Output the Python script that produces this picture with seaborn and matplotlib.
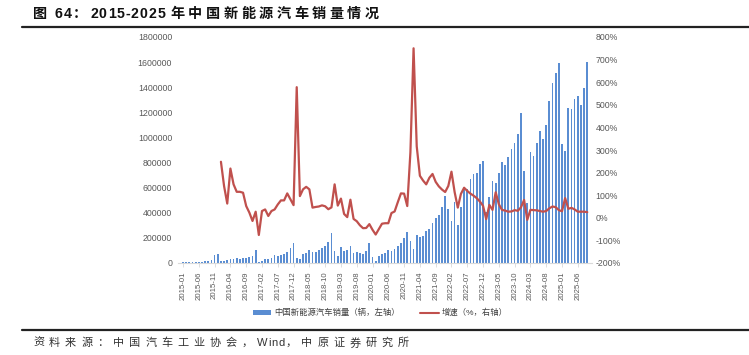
import matplotlib
matplotlib.use("Agg")
import matplotlib.pyplot as plt
from matplotlib.patches import Patch
from matplotlib.lines import Line2D
import seaborn as sns
import pandas as pd
import numpy as np

# ---------------- data ----------------
years = list(range(2015, 2026))
months = [f"{y}-{m:02d}" for y in years for m in range(1, 13)][:129]   # 2015-01 .. 2025-09

sales_2015 = [4700, 5500, 8000, 8500, 9500, 11000, 11000, 12000, 19000, 23000, 66000, 72000]
sales_2016 = [16500, 12000, 22500, 30000, 32000, 40000, 32000, 36000, 42000, 45000, 57000, 100000]
sales_2017 = [5700, 14000, 28000, 31000, 42000, 60000, 52000, 64000, 74000, 85000, 120000, 158000]
sales_2018 = [40000, 34500, 68000, 82000, 102000, 84000, 84000, 101000, 121000, 138000, 169000, 235000]
sales_2019 = [96000, 53000, 126000, 97000, 104000, 134000, 80000, 85000, 80000, 75000, 95000, 163000]
sales_2020 = [44000, 13000, 53000, 72000, 82000, 104000, 98000, 109000, 138000, 160000, 200000, 248000]
sales_2021 = [179000, 110000, 226000, 206000, 217000, 256000, 271000, 321000, 357000, 383000, 450000, 531000]
sales_2022 = [431000, 334000, 484000, 299000, 447000, 596000, 593000, 666000, 708000, 714000, 786000, 814000]
sales_2023 = [408000, 525000, 653000, 636000, 717000, 806000, 780000, 846000, 904000, 956000, 1026000, 1191000]
sales_2024 = [729000, 477000, 883000, 850000, 955000, 1049000, 991000, 1100000, 1287000, 1430000, 1512000, 1596000]
sales_2025 = [944000, 892000, 1235000, 1226000, 1307000, 1329000, 1262000, 1395000, 1604000]

growth_2016 = [248, 140, 63, 218, 148, 115, 115, 111, 52, 23, -14, 27]
growth_2017 = [-76, 30, 37, 8, 30, 37, 59, 77, 77, 108, 82, 56]
growth_2018 = [578, 96, 126, 137, 126, 45, 48, 50, 55, 51, 38, 46]
growth_2019 = [148, 54, 85, 17, 3, 80, -5, -15, -33, -46, -45, -28]
growth_2020 = [-53, -74, -50, -26, -24, -24, 21, 28, 69, 108, 107, 52]
growth_2021 = [290, 750, 316, 186, 165, 148, 177, 194, 159, 139, 125, 114]
growth_2022 = [141, 204, 114, 45, 106, 133, 119, 107, 98, 87, 72, 53]
growth_2023 = [-6, 57, 35, 113, 60, 35, 32, 27, 28, 34, 31, 46]
growth_2024 = [79, -9, 35, 34, 33, 30, 27, 30, 42, 50, 47, 34]
growth_2025 = [29, 87, 40, 44, 37, 27, 27, 27, 25]

tick_labels = ["2015-01", "2015-06", "2015-11", "2016-04", "2016-09", "2017-02", "2017-07",
               "2017-12", "2018-05", "2018-10", "2019-03", "2019-08", "2020-01", "2020-06",
               "2020-11", "2021-04", "2021-09", "2022-02", "2022-07", "2022-12", "2023-05",
               "2023-10", "2024-03", "2024-08", "2025-01", "2025-06"]

left_ticks = [0, 200000, 400000, 600000, 800000, 1000000, 1200000, 1400000, 1600000, 1800000]
right_ticks = [-200, -100, 0, 100, 200, 300, 400, 500, 600, 700, 800]

title = "图 64：2015-2025 年中国新能源汽车销量情况"
source = "资料来源：中国汽车工业协会，Wind，中原证券研究所"
bar_label = "中国新能源汽车销量（辆，左轴）"
line_label = "增速（%，右轴）"

sales = (sales_2015 + sales_2016 + sales_2017 + sales_2018 + sales_2019 + sales_2020 +
         sales_2021 + sales_2022 + sales_2023 + sales_2024 + sales_2025)
growth = (growth_2016 + growth_2017 + growth_2018 + growth_2019 + growth_2020 +
          growth_2021 + growth_2022 + growth_2023 + growth_2024 + growth_2025)

df = pd.DataFrame({"month": months, "pos": np.arange(len(months)), "sales": sales})
dg = pd.DataFrame({"month": months[12:], "pos": np.arange(12, len(months)), "growth": growth})

# ---------------- style ----------------
sns.set_theme(style="white")
plt.rcParams["font.family"] = ["Liberation Sans", "Noto Sans CJK SC", "DejaVu Sans"]

BAR = "#5a8dd2"
LINE = "#c0504d"
TXT = "#595959"

W, H = 749, 355
fig = plt.figure(figsize=(W / 100, H / 100), dpi=100)
ax = fig.add_axes([178.3 / W, (H - 263) / H, (592 - 178.3) / W, 226 / H])

sns.barplot(data=df, x="pos", y="sales", native_scale=True, color=BAR, saturation=1,
            width=0.55, linewidth=0, ax=ax)
ax.set_xlim(-1.5, 129.5)
ax.set_ylim(0, 1800000)
ax.set_yticks(left_ticks)
ax.set_yticklabels([str(v) for v in left_ticks])
tick_pos = [months.index(t) for t in tick_labels]
ax.set_xticks(tick_pos)
ax.set_xticklabels(tick_labels, rotation=90)
ax.set_xlabel("")
ax.set_ylabel("")
for s in ["top", "left", "right"]:
    ax.spines[s].set_visible(False)
ax.spines["bottom"].set_color("#d9d9d9")
ax.spines["bottom"].set_linewidth(0.8)
ax.tick_params(axis="y", length=0, pad=4.5, labelsize=6.3, labelcolor=TXT)
ax.tick_params(axis="x", length=3, width=0.6, color="#d9d9d9", pad=3, labelsize=5.6,
               labelcolor=TXT, bottom=True)

ax2 = ax.twinx()
sns.lineplot(data=dg, x="pos", y="growth", color=LINE, linewidth=1.6, ax=ax2)
ax2.set_ylim(-200, 800)
ax2.set_yticks(right_ticks)
ax2.set_yticklabels([f"{v}%" for v in right_ticks])
ax2.set_ylabel("")
for s in ["top", "left", "right", "bottom"]:
    ax2.spines[s].set_visible(False)
ax2.tick_params(axis="y", length=0, pad=2.5, labelsize=6.3, labelcolor=TXT)

# legend
handles = [Patch(facecolor=BAR, edgecolor="none"), Line2D([], [], color=LINE, lw=1.5)]
fig.legend(handles, [bar_label, line_label], loc="center", bbox_to_anchor=(380 / W, 1 - 313 / H),
           ncol=2, frameon=False, fontsize=6.0, handlelength=2.2, handleheight=0.5,
           columnspacing=2.5, handletextpad=0.35, labelcolor="#404040")

# letter-spaced text helper
renderer = fig.canvas.get_renderer()


def spaced_text(x_px, y_px, s, cjk_sp, latin_sp, space_w, **kw):
    cur = x_px
    for ch in s:
        if ch == " ":
            cur += space_w
            continue
        t = fig.text(cur / W, 1 - y_px / H, ch, va="center", ha="left", **kw)
        w = t.get_window_extent(renderer).width
        cur += w + (latin_sp if ord(ch) < 128 else cjk_sp)


spaced_text(33, 14, title, 3.6, 0.9, 4, fontsize=10.2, fontweight="bold", color="#111111")
spaced_text(33, 343, source, 4.9, 0.6, 3, fontsize=8.0, color="#333333")

fig.add_artist(Line2D([22 / W, 1], [1 - 26.5 / H, 1 - 26.5 / H], color="#222222", lw=1.6))
fig.add_artist(Line2D([22 / W, 1], [1 - 329.5 / H, 1 - 329.5 / H], color="#222222", lw=1.6))

fig.savefig("out.png", dpi=100)
